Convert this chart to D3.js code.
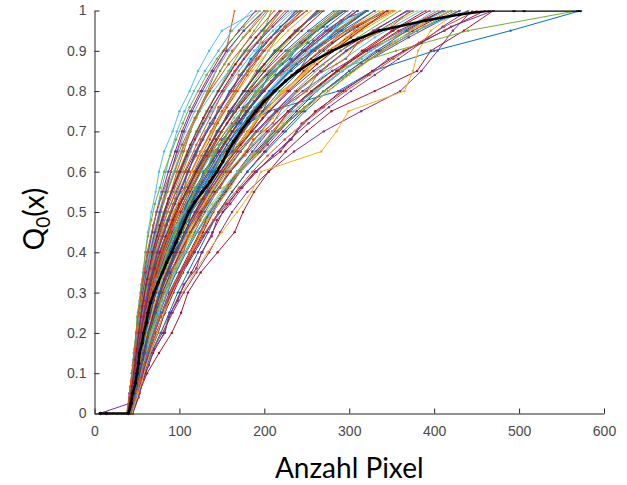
<!DOCTYPE html>
<html>
<head>
<meta charset="utf-8">
<script src="https://cdn.jsdelivr.net/npm/d3@7"></script>
<style>
  body { margin: 0; background: #fff; }
</style>
</head>
<body>
<div id="chart"></div>
<script>
// tick labels
var xTicks = [0, 100, 200, 300, 400, 500, 600];
var yTicks = [0, 0.1, 0.2, 0.3, 0.4, 0.5, 0.6, 0.7, 0.8, 0.9, 1];

// cumulative levels, one set per number of objects in an image
var levels16 = [0, 0.0667, 0.1333, 0.2, 0.2667, 0.3333, 0.4, 0.4667, 0.5333, 0.6, 0.6667, 0.7333, 0.8, 0.8667, 0.9333, 1];
var levels21 = [0, 0.05, 0.1, 0.15, 0.2, 0.25, 0.3, 0.35, 0.4, 0.45, 0.5, 0.55, 0.6, 0.65, 0.7, 0.75, 0.8, 0.85, 0.9, 0.95, 1];
var levels26 = [0, 0.04, 0.08, 0.12, 0.16, 0.2, 0.24, 0.28, 0.32, 0.36, 0.4, 0.44, 0.48, 0.52, 0.56, 0.6, 0.64, 0.68, 0.72, 0.76, 0.8,
  0.84, 0.88, 0.92, 0.96, 1];
var levels41 = [0, 0.025, 0.05, 0.075, 0.1, 0.125, 0.15, 0.175, 0.2, 0.225, 0.25, 0.275, 0.3, 0.325, 0.35, 0.375, 0.4, 0.425, 0.45, 0.475, 0.5,
  0.525, 0.55, 0.575, 0.6, 0.625, 0.65, 0.675, 0.7, 0.725, 0.75, 0.775, 0.8, 0.825, 0.85, 0.875, 0.9, 0.925, 0.95, 0.975, 1];

// overall (black) curve
var meanX = [7, 14, 40, 43, 45, 48, 50, 52, 53, 56, 58, 61, 63, 66, 70, 75, 80, 85, 91, 96, 101, 106, 111, 118, 127, 136, 144, 151, 157, 164,
  172, 181, 190, 200, 212, 225, 240, 258, 280, 305, 335, 390, 430, 465, 494, 506, 569, 572];
var meanY = [0, 0, 0, 0.025, 0.05, 0.075, 0.1, 0.125, 0.15, 0.175, 0.2, 0.225, 0.25, 0.275, 0.3, 0.325, 0.35, 0.375, 0.4, 0.425, 0.45, 0.475,
  0.5, 0.525, 0.55, 0.575, 0.6, 0.625, 0.65, 0.675, 0.7, 0.725, 0.75, 0.775, 0.8, 0.825, 0.85, 0.875, 0.9, 0.925, 0.95, 0.975, 0.99, 1, 1, 1, 1, 1];

// pixel counts of the single images, one array per curve
var curves = [
  [41,46,51,55,60,65,71,78,88,97,107,119,132,146,162,178,198,220,245,275,310],
  [40,44,47,50,53,57,61,66,71,77,83,90,97,105,113,122,133,143,155,160,165],
  [43,49,55,61,67,74,82,91,101,112,124,138,152,168,185,204,226,252,280,315,355],
  [42,48,56,66,80,92,105,120,135,148,162,180,205,235,270,314,360,385,404,422,445],
  [40,45,49,53,56,61,66,72,80,88,97,108,120,131,145,159,176,193,213,238,265],
  [39,42,44,46,49,51,54,57,60,63,67,72,76,82,92,100,112,122,135,150,193],
  [44,52,62,76,91,102,110,125,145,165,175,188,205,225,250,279,330,380,396,435,470],
  [40,44,48,52,56,60,65,71,79,88,97,108,122,140,165,205,287,328,400,490,573],
  [39,43,46,49,52,56,60,65,70,77,84,93,102,112,124,136,150,165,182,203,225],
  [43,50,57,66,78,90,103,118,133,150,168,185,196,267,285,299,365,375,381,396,430],
  [6,41,44,47,50,52,55,57,60,62,65,68,72,75,80,84,89,93,98,103,108,114,120,127,134,141,148,155,163,170,179,188,197,208,220,232,245,258,272,290,320],
  [41,46,50,54,58,63,69,75,83,91,100,110,121,133,146,160,176,190,205,220,236],
  [40,43,45,48,50,53,56,60,64,68,73,78,84,90,97,106,117,130,146,162,185],
  [43,50,56,62,70,79,88,100,112,124,137,152,168,186,205,228,255,285,315,350,390],
  [42,48,54,59,64,71,78,87,98,108,120,133,148,163,180,198,218,242,270,300,340],
  [41,45,50,53,57,62,67,73,81,90,100,111,124,137,150,166,184,205,228,255,285],
  [40,44,48,51,54,58,62,68,74,82,90,100,110,120,132,145,160,175,192,215,240],
  [40,42,46,49,52,55,59,64,70,78,86,96,107,119,131,146,162,180,200,222,250],
  [40,44,48,50,53,56,60,66,72,79,86,95,104,113,122,133,145,158,172,188,205],
  [39,42,45,47,50,53,56,60,65,70,76,83,90,98,107,118,130,143,158,175,200],
  [44,51,57,64,73,82,92,104,118,132,146,162,180,200,222,245,270,300,335,375,420],
  [41,46,51,55,59,64,70,77,86,95,105,117,130,143,158,174,192,212,235,262,290],
  [43,49,56,60,68,72,81,89,102,109,124,134,153,163,184,198,225,246,278,306,350],
  [41,47,52,56,61,66,72,80,90,99,110,122,135,149,164,181,200,221,246,274,305],
  [40,46,49,52,57,62,65,73,79,89,96,109,119,132,146,158,177,192,214,236,268],
  [40,44,48,52,55,59,63,70,77,85,93,104,114,125,138,152,166,180,192,200,208],
  [44,51,58,64,74,82,91,103,114,125,137,152,170,192,210,230,257,287,319,361,416],
  [42,47,53,58,62,69,75,84,93,102,113,126,140,154,170,187,207,230,255,286,320],
  [43,49,55,61,68,76,85,96,107,118,130,144,160,178,196,215,240,268,297,335,375],
  [39,42,46,48,51,54,58,62,66,72,78,86,94,103,112,123,135,148,162,183,203],
  [42,48,54,59,64,71,78,87,97,106,118,131,145,160,176,193,214,239,265,298,335],
  [40,44,48,52,55,59,64,70,78,86,96,108,122,136,150,166,184,206,230,258,288],
  [42,48,52,57,63,69,76,84,92,104,114,127,139,156,171,186,209,228,257,284,318],
  [39,42,45,48,51,54,57,61,65,71,77,84,93,102,112,124,140,158,180,205,232],
  [45,53,60,69,82,90,101,114,127,139,151,168,189,219,238,260,293,327,364,412,460],
  [41,45,50,53,57,62,67,74,82,92,103,116,130,146,162,180,200,222,248,278,310],
  [41,45,52,54,60,63,71,76,87,94,106,116,131,142,159,173,193,211,236,260,292],
  [43,50,54,61,65,74,79,91,99,111,121,137,149,166,181,201,221,249,274,312,348],
  [39,41,44,47,49,52,55,59,63,68,73,80,87,95,103,113,125,138,152,170,190],
  [41,46,51,55,59,64,70,76,85,93,102,113,125,137,150,164,180,197,217,240,262],
  [40,45,47,52,53,59,61,69,73,83,89,101,109,121,131,146,159,176,191,216,238],
  [44,50,58,65,73,83,91,101,114,126,135,153,168,190,212,228,259,285,321,358,412],
  [40,44,48,51,55,58,63,69,76,85,94,105,118,131,145,162,180,201,225,252,282],
  [42,48,53,59,64,70,77,86,96,106,118,131,145,160,176,194,214,238,265,296,330],
  [41,45,49,54,57,60,67,73,79,89,98,107,121,132,144,160,175,195,212,240,263],
  [41,46,51,55,60,65,71,79,89,98,109,121,134,148,163,180,199,221,246,274,305],
  [42,48,54,60,66,74,82,92,102,114,126,140,156,172,190,215,250,280,355,440,570],
  [40,43,46,49,52,56,59,64,69,75,82,91,100,110,120,132,145,160,176,196,218],
  [42,50,56,59,67,72,81,89,101,109,123,135,151,164,183,199,223,247,276,309,352],
  [44,52,59,67,78,88,98,110,122,134,146,162,180,202,225,248,275,305,338,380,430],
  [40,45,49,52,56,60,65,71,78,86,94,104,114,125,137,150,165,181,198,220,245],
  [42,46,50,56,58,65,69,78,85,96,104,118,129,144,157,175,191,213,234,263,288],
  [42,47,53,58,63,70,77,86,96,106,118,132,148,166,186,206,230,258,290,328,370],
  [40,43,46,49,52,55,59,64,69,75,82,90,99,109,120,132,146,160,177,198,220],
  [40,44,48,51,54,58,62,67,74,81,90,99,110,121,132,145,160,176,193,214,242],
  [44,51,58,65,74,83,93,104,116,128,140,155,172,195,215,238,262,292,325,365,410],
  [41,46,51,56,60,66,72,80,89,99,110,123,138,153,170,188,208,232,260,292,330],
  [42,48,52,58,63,67,76,82,94,101,114,125,141,153,171,186,208,229,256,285,322],
  [40,44,48,52,55,59,64,70,77,85,93,104,115,126,139,153,169,186,205,228,255],
  [43,49,55,61,67,74,82,92,102,113,125,139,154,172,192,215,245,280,320,370,420],
  [40,45,50,53,57,61,66,73,80,88,97,108,120,132,145,160,176,194,214,238,266],
  [39,42,45,47,50,53,57,62,67,74,81,91,101,112,124,138,153,170,188,210,235],
  [41,46,51,55,59,64,69,76,84,93,102,113,125,137,150,165,182,200,220,244,270],
  [40,46,49,54,56,62,65,73,79,89,96,109,119,132,144,160,175,194,212,239,264],
  [44,52,56,65,73,83,89,103,113,125,135,153,169,193,209,231,256,288,318,362,405],
  [41,47,50,56,59,63,71,77,87,94,106,116,131,142,159,173,193,211,236,261,292],
  [40,43,46,48,51,54,57,61,66,71,77,84,90,97,105,115,127,140,156,176,200],
  [40,44,48,52,55,60,64,70,78,86,96,108,122,136,150,166,184,206,230,258,288],
  [43,49,55,60,66,73,80,90,100,109,120,133,146,160,175,190,208,228,250,278,310],
  [41,45,50,54,57,62,68,74,83,92,103,116,130,146,162,180,200,222,248,278,310],
  [41,44,50,52,57,58,64,66,74,77,88,91,103,108,122,128,143,150,167,175,196,205,230,242,270,288],
  [40,43,47,48,52,53,58,59,65,68,75,79,88,92,106,109,120,125,140,146,163,170,190,198,225,250],
  [43,48,52,58,60,67,71,78,83,93,99,109,116,129,140,152,160,177,187,206,220,246,262,292,316,352],
  [45,52,57,64,70,83,87,98,105,120,126,138,144,160,174,191,210,232,244,268,290,322,346,385,420,470],
  [38,41,43,45,47,49,50,53,55,58,60,63,67,71,77,82,89,96,104,112,122,132,144,158,176,195],
  [42,46,51,54,59,63,68,73,79,86,93,100,109,117,130,137,149,160,175,188,205,221,240,262,286,318],
  [41,45,49,53,56,61,65,70,76,83,91,100,110,119,132,143,155,168,182,196,212,232,255,280,310,345],
  [40,49,55,60,65,75,85,99,112,131,147,170,190,221,252,292],
  [40,45,50,53,59,65,73,83,95,106,120,136,152,172,196,220],
  [43,50,59,65,76,86,101,113,132,149,172,193,223,256,300,348],
  [44,54,62,75,85,99,114,130,148,172,204,232,270,315,370,430],
  [39,43,48,51,55,61,66,75,82,95,105,120,134,153,175,200],
  [42,49,56,61,71,78,95,104,124,136,162,176,208,232,275,305],
  [40,46,52,57,62,70,80,91,104,120,136,155,176,200,230,262],
  [40,44,46,50,51,55,57,61,64,70,74,81,86,95,103,111,117,128,136,149,159,173,184,202,219,242],
  [40,44,48,50,54,56,60,63,68,73,79,86,93,100,110,117,126,136,145,156,168,180,193,208,224,244],
  [44,50,56,61,67,74,80,88,96,106,114,124,133,146,160,172,190,205,222,240,260,285,310,340,380,420],
  [39,42,45,48,50,52,55,58,61,65,69,74,80,86,93,101,109,118,128,138,150,162,176,192,210,228],
  [41,45,49,53,55,60,62,68,72,80,85,94,100,112,118,132,138,154,162,180,190,212,222,250,262,295],
  [43,48,53,57,62,67,73,79,86,95,104,112,121,134,148,160,178,196,214,234,258,285,315,348,390,440],
  [40,43,47,50,52,55,58,62,66,71,77,84,92,100,110,120,132,143,156,170,186,203,222,244,268,295],
  [41,48,54,60,67,76,88,101,117,136,156,180,206,238,278,322],
  [38,42,46,49,53,57,62,69,78,90,103,118,136,158,184,212],
  [43,51,59,67,77,89,103,119,137,158,184,210,240,276,322,380],
  [40,45,50,54,60,66,74,85,97,110,124,142,160,182,208,238],
  [41,47,54,59,66,74,86,98,114,130,147,168,193,219,254,288],
  [40,46,52,58,64,72,83,96,110,126,144,164,188,216,250,290],
  [39,44,48,52,56,62,68,77,87,100,113,128,146,166,190,218],
  [42,47,51,55,59,64,68,73,79,86,94,101,110,118,128,138,148,160,172,184,198,214,232,252,274,298],
  [40,44,48,51,54,57,61,65,70,76,82,88,95,104,113,124,135,148,162,178,196,218,244,272,305,345],
  [42,47,52,56,61,66,72,78,86,95,104,114,125,138,152,168,186,205,226,250,276,300,326,352,380,410],
  [43,48,54,59,65,71,78,86,95,105,116,128,141,156,172,190,210,230,252,276,302,330,358,385,410,440],
  [42,50,57,64,73,84,97,112,130,152,178,205,236,270,310,360],
  [43,51,58,66,76,88,102,118,138,160,186,215,248,285,330,385],
  [42,48,53,59,65,72,80,90,101,113,127,142,160,180,203,228,256,286,318,352,395],
  [43,49,55,62,69,77,86,96,108,121,136,152,171,192,216,242,270,300,332,368,410],
  [42,46,53,55,62,65,74,77,88,92,105,110,124,131,148,157,176,187,210,222,250,262,296,310,350,372],
  [41,49,55,62,70,80,93,106,124,143,168,192,224,258,296,340],
  [42,47,52,57,63,70,78,87,97,108,121,135,151,169,190,213,238,266,296,330,368],
  [42,47,51,56,61,66,72,79,87,96,106,117,129,142,156,171,187,205,225,247,271,297,325,355,388,425],
  [43,50,55,61,68,76,85,95,107,120,134,150,168,188,210,234,262,292,326,364,400],
  [42,50,57,63,72,82,95,110,128,148,172,198,228,262,302,345],
  [42,48,52,60,63,72,76,88,93,108,114,132,140,162,172,198,210,240,256,290,320],
  [43,48,53,58,64,70,77,85,94,104,115,127,140,154,170,186,204,224,246,270,296,324,352,382,412,450]
];

// matlab default line colours
var palette = ["#0072BD", "#D95319", "#EDB120", "#7E2F8E", "#77AC30", "#4DBEEE", "#A2142F"];

var margin = {top: 10.5, right: 23, bottom: 71.5, left: 94.5},
    width = 627 - margin.left - margin.right,
    height = 485 - margin.top - margin.bottom;

var svg = d3.select("#chart")
  .append("svg")
    .attr("width", 627)
    .attr("height", 485)
  .append("g")
    .attr("transform", "translate(" + margin.left + "," + margin.top + ")");

var x = d3.scaleLinear().domain([0, 600]).range([0, width]);
var y = d3.scaleLinear().domain([0, 1]).range([height, 0]);
var color = d3.scaleOrdinal().domain(d3.range(palette.length)).range(palette);

svg.append("clipPath").attr("id", "clip")
  .append("rect").attr("x", -4).attr("y", 0).attr("width", width + 8).attr("height", height + 4);

var plot = svg.append("g").attr("clip-path", "url(#clip)");

var line = d3.line()
  .x(function(d) { return x(d[0]); })
  .y(function(d) { return y(d[1]); });

var levelSets = {16: levels16, 21: levels21, 26: levels26, 41: levels41};
var series = curves.map(function(xs) {
  var ys = levelSets[xs.length];
  return xs.map(function(v, i) { return [v, ys[i]]; });
});

var groups = plot.selectAll("g.curve")
  .data(series)
  .enter().append("g")
    .attr("class", "curve")
    .attr("fill", function(d, i) { return color(i % palette.length); })
    .attr("stroke", function(d, i) { return color(i % palette.length); });

groups.append("path")
  .attr("fill", "none")
  .attr("stroke-width", 1)
  .attr("d", line);

groups.selectAll("circle")
  .data(function(d) { return d; })
  .enter().append("circle")
    .attr("stroke", "none")
    .attr("cx", function(d) { return x(d[0]); })
    .attr("cy", function(d) { return y(d[1]); })
    .attr("r", 1.2);

// black overall curve on top
var meanData = meanX.map(function(v, i) { return [v, meanY[i]]; });
plot.append("path")
  .datum(meanData)
  .attr("fill", "none")
  .attr("stroke", "#000")
  .attr("stroke-width", 2.6)
  .attr("d", line);
plot.append("g").selectAll("circle")
  .data(meanData)
  .enter().append("circle")
    .attr("cx", function(d) { return x(d[0]); })
    .attr("cy", function(d) { return y(d[1]); })
    .attr("r", 1.8)
    .attr("fill", "#000");

// axes (matlab style, ticks pointing inwards, no box)
var xAxis = svg.append("g")
  .attr("transform", "translate(0," + height + ")")
  .call(d3.axisBottom(x).tickValues(xTicks).tickSizeInner(-5).tickSizeOuter(0).tickPadding(13));
var yAxis = svg.append("g")
  .call(d3.axisLeft(y).tickValues(yTicks).tickFormat(d3.format("~g")).tickSizeInner(-5).tickSizeOuter(0).tickPadding(8));

[xAxis, yAxis].forEach(function(a) {
  a.select(".domain").attr("stroke", "#262626");
  a.selectAll(".tick line").attr("stroke", "#262626");
  a.selectAll(".tick text")
    .attr("fill", "#4a4a4a")
    .style("font-family", "'Liberation Sans', Arial, sans-serif")
    .style("font-size", "14px");
});

// axis labels
svg.append("text")
  .attr("x", width / 2)
  .attr("y", 478 - margin.top)
  .attr("text-anchor", "middle")
  .style("font-family", "Lato, 'Open Sans', sans-serif")
  .style("font-size", "28px")
  .attr("fill", "#000")
  .text("Anzahl Pixel");

var ylab = svg.append("text")
  .attr("transform", "translate(" + (44 - margin.left) + "," + (219 - margin.top) + ") rotate(-90)")
  .attr("text-anchor", "middle")
  .style("font-family", "Lato, 'Open Sans', sans-serif")
  .style("font-size", "28px")
  .attr("fill", "#000");
ylab.append("tspan").text("Q");
ylab.append("tspan").attr("dy", 6).style("font-size", "19px").text("0");
ylab.append("tspan").attr("dy", -6).text("(x)");
</script>
</body>
</html>
